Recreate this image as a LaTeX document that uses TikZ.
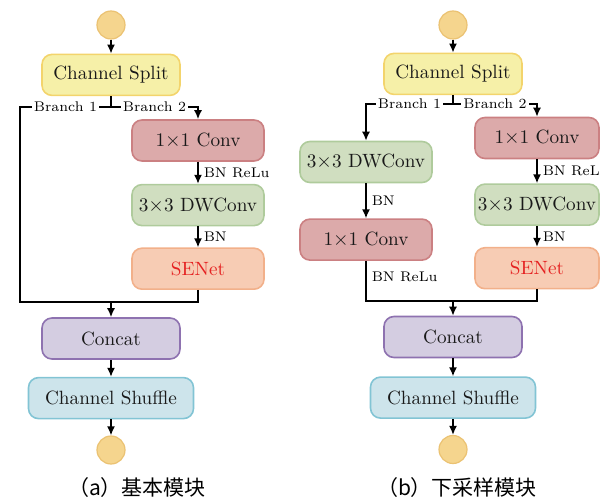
\documentclass[tikz,border=0pt]{standalone}
\usepackage{fontspec}
\usepackage{xcolor}
\usetikzlibrary{positioning,arrows.meta}
\newfontfamily\cjk{Noto Sans CJK SC}

\definecolor{dotFill}{HTML}{F5D58E}
\definecolor{dotLine}{HTML}{EBC272}
\definecolor{splitFill}{HTML}{F6F0A8}
\definecolor{splitLine}{HTML}{F3D46C}
\definecolor{convFill}{HTML}{DCAAAA}
\definecolor{convLine}{HTML}{CB8082}
\definecolor{dwFill}{HTML}{D0DEC0}
\definecolor{dwLine}{HTML}{AFCB9C}
\definecolor{seFill}{HTML}{F7CCB4}
\definecolor{seLine}{HTML}{F2B08A}
\definecolor{seText}{HTML}{E52222}
\definecolor{catFill}{HTML}{D4CDE1}
\definecolor{catLine}{HTML}{8E72B0}
\definecolor{shufFill}{HTML}{CDE4EB}
\definecolor{shufLine}{HTML}{82C4D4}

\begin{document}
\begin{tikzpicture}[x=0.5pt, y=-0.5pt,
		block/.style={rectangle, rounded corners=5pt, line width=0.8pt, minimum width=66pt, minimum height=20.5pt, inner sep=0pt, text=black!90, font=\fontsize{9.6}{11}\selectfont},
		splitbox/.style={block, fill=splitFill, draw=splitLine, minimum width=69pt},
		convbox/.style={block, fill=convFill, draw=convLine},
		dwbox/.style={block, fill=dwFill, draw=dwLine},
		sebox/.style={block, fill=seFill, draw=seLine, text=seText},
		catbox/.style={block, fill=catFill, draw=catLine, minimum width=69pt},
		shufbox/.style={block, fill=shufFill, draw=shufLine, minimum width=82.5pt},
		narrow/.style={minimum width=62pt},
		dot/.style={circle, fill=dotFill, draw=dotLine, line width=0.6pt, minimum size=14pt, inner sep=0pt},
		branch/.style={fill=white, inner xsep=1pt, inner ysep=0.5pt, font=\fontsize{7}{8}\selectfont},
		note/.style={right, inner sep=1pt, xshift=1.5pt, font=\fontsize{7}{8}\selectfont},
		line/.style={line width=0.75pt},
		arr/.style={line, -{Latex[length=4.5pt, width=4pt]}},
		caption/.style={font=\cjk\fontsize{10.5}{12}\selectfont},
	]
		\path[use as bounding box, clip] (0,0) rectangle (600,497);

		% (a) nodes
		\node[dot] (a-in) at (111,25) {};
		\node[splitbox] (a-split) [below=7pt of a-in] {Channel Split};
		\node[convbox] (a-conv) at (198,140.5) {1$\times$1 Conv};
		\node[dwbox] (a-dw) [below=11pt of a-conv] {3$\times$3 DWConv};
		\node[sebox] (a-se) [below=10.5pt of a-dw] {SENet};
		\node[catbox] (a-cat) at (111,338.5) {Concat};
		\node[shufbox] (a-shuf) [below=8.5pt of a-cat] {Channel Shuffle};
		\node[dot] (a-out) [below=8pt of a-shuf] {};
		\node[caption] (a-cap) at (137,488) {（a）基本模块};
		\coordinate (a-fork) at (111,107);
		\coordinate (a-side) at (20,107);
		\coordinate (a-join) at (111,302);

		% (a) lines
		\draw[arr] (a-in) -- (a-split);
		\draw[line] (a-split) -- (a-fork) -- node[branch] {Branch 1} (a-side) |- (a-join);
		\draw[arr] (a-fork) -- node[branch] {Branch 2} (a-fork -| a-conv) -- (a-conv);
		\draw[arr] (a-conv) -- node[note] {BN ReLu} (a-dw);
		\draw[arr] (a-dw) -- node[note] {BN} (a-se);
		\draw[line] (a-se) |- (a-join);
		\draw[arr] (a-join) -- (a-cat);
		\draw[arr] (a-cat) -- (a-shuf);
		\draw[arr] (a-shuf) -- (a-out);

		% (b) nodes
		\node[dot] (b-in) at (453,25) {};
		\node[splitbox] (b-split) [below=6.5pt of b-in] {Channel Split};
		\node[dwbox] (b-ldw) at (366,162) {3$\times$3 DWConv};
		\node[convbox] (b-lconv) [below=17.5pt of b-ldw] {1$\times$1 Conv};
		\node[convbox, narrow] (b-rconv) at (537,138) {1$\times$1 Conv};
		\node[dwbox, narrow] (b-rdw) [below=12pt of b-rconv] {3$\times$3 DWConv};
		\node[sebox, narrow] (b-rse) [below=10.5pt of b-rdw] {SENet};
		\node[catbox] (b-cat) at (453,337) {Concat};
		\node[shufbox] (b-shuf) [below=9pt of b-cat] {Channel Shuffle};
		\node[dot] (b-out) [below=8pt of b-shuf] {};
		\node[caption] (b-cap) at (457,488) {（b）下采样模块};
		\coordinate (b-fork) at (453,104);
		\coordinate (b-join) at (453,301);

		% (b) lines
		\draw[arr] (b-in) -- (b-split);
		\draw[line] (b-split) -- (b-fork);
		\draw[arr] (b-fork) -- node[branch] {Branch 1} (b-fork -| b-ldw) -- (b-ldw);
		\draw[arr] (b-fork) -- node[branch] {Branch 2} (b-fork -| b-rconv) -- (b-rconv);
		\draw[arr] (b-ldw) -- node[note] {BN} (b-lconv);
		\draw[line] (b-lconv) |- node[note, pos=0.2] {BN ReLu} (b-join);
		\draw[arr] (b-rconv) -- node[note] {BN ReLu} (b-rdw);
		\draw[arr] (b-rdw) -- node[note] {BN} (b-rse);
		\draw[line] (b-rse) |- (b-join);
		\draw[arr] (b-join) -- (b-cat);
		\draw[arr] (b-cat) -- (b-shuf);
		\draw[arr] (b-shuf) -- (b-out);
	\end{tikzpicture}
\end{document}
